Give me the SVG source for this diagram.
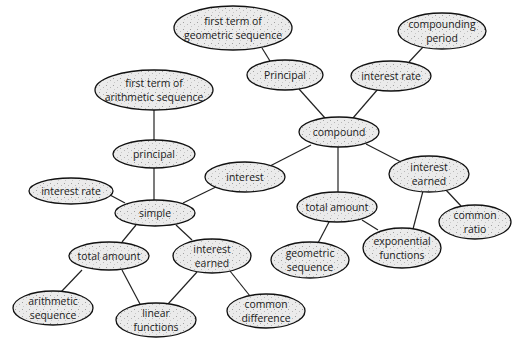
<svg xmlns="http://www.w3.org/2000/svg" width="512" height="338" viewBox="0 0 512 338">
<defs>
<pattern id="stip" width="7" height="7" patternUnits="userSpaceOnUse">
<rect width="7" height="7" fill="#ebebeb"/>
<rect x="1" y="1" width="1" height="1" fill="#a0a0a0"/>
<rect x="5" y="3" width="1" height="1" fill="#b8b8b8"/>
<rect x="2" y="5" width="1" height="1" fill="#c8c8c8"/>
</pattern>
<style>
.n ellipse{fill:url(#stip);stroke:#111;stroke-width:1.3}
.n text{font-family:"Open Sans","DejaVu Sans",sans-serif;font-size:10.4px;fill:#1a1a1a;text-anchor:middle}
#edges line{stroke:#222;stroke-width:1.2}
</style>
</defs>
<rect width="512" height="338" fill="#fff"/>
<g id="edges">
<line x1="262" y1="48" x2="270" y2="61"/>
<line x1="423" y1="47" x2="409" y2="62"/>
<line x1="299" y1="89" x2="325" y2="118"/>
<line x1="378" y1="89" x2="353" y2="118"/>
<line x1="311" y1="145" x2="270" y2="166"/>
<line x1="338" y1="147" x2="338" y2="192"/>
<line x1="366" y1="144" x2="401" y2="162"/>
<line x1="154" y1="110" x2="154" y2="140"/>
<line x1="154" y1="168" x2="154" y2="201"/>
<line x1="110" y1="195" x2="125" y2="203"/>
<line x1="220" y1="185" x2="183" y2="203"/>
<line x1="136" y1="225" x2="122" y2="242"/>
<line x1="176" y1="225" x2="192" y2="240"/>
<line x1="82" y1="270" x2="61" y2="292"/>
<line x1="122" y1="270" x2="140" y2="304"/>
<line x1="197" y1="272" x2="168" y2="304"/>
<line x1="230" y1="271" x2="250" y2="296"/>
<line x1="329" y1="222" x2="318" y2="243"/>
<line x1="362" y1="220" x2="378" y2="230"/>
<line x1="423" y1="191" x2="413" y2="229"/>
<line x1="446" y1="190" x2="461" y2="206"/>
</g>
<g id="n-first-geo" class="n"><ellipse cx="233" cy="28" rx="59" ry="22"/><text x="233" y="24.5">first term of</text><text x="233" y="39">geometric sequence</text></g>
<g id="n-comp-period" class="n"><ellipse cx="442" cy="31" rx="44" ry="18"/><text x="442" y="27.5">compounding</text><text x="442" y="42">period</text></g>
<g id="n-Principal" class="n"><ellipse cx="285" cy="75" rx="38" ry="15"/><text x="285" y="79">Principal</text></g>
<g id="n-rate-top" class="n"><ellipse cx="391" cy="76" rx="40" ry="15"/><text x="391" y="80">interest rate</text></g>
<g id="n-compound" class="n"><ellipse cx="339" cy="132" rx="40" ry="15"/><text x="339" y="136">compound</text></g>
<g id="n-first-arith" class="n"><ellipse cx="154" cy="90" rx="59" ry="20"/><text x="154" y="86.5">first term of</text><text x="154" y="101">arithmetic sequence</text></g>
<g id="n-principal" class="n"><ellipse cx="154" cy="154" rx="41" ry="14"/><text x="154" y="158">principal</text></g>
<g id="n-interest" class="n"><ellipse cx="245" cy="177" rx="40" ry="15"/><text x="245" y="181">interest</text></g>
<g id="n-rate-left" class="n"><ellipse cx="71" cy="191" rx="42" ry="13"/><text x="71" y="195">interest rate</text></g>
<g id="n-simple" class="n"><ellipse cx="155" cy="213" rx="40" ry="13"/><text x="155" y="217">simple</text></g>
<g id="n-total-left" class="n"><ellipse cx="109" cy="256" rx="40" ry="14"/><text x="109" y="260">total amount</text></g>
<g id="n-earned-left" class="n"><ellipse cx="212" cy="256" rx="39" ry="17"/><text x="212" y="252.5">interest</text><text x="212" y="267">earned</text></g>
<g id="n-arith-seq" class="n"><ellipse cx="53" cy="308" rx="40" ry="17"/><text x="53" y="304.5">arithmetic</text><text x="53" y="319">sequence</text></g>
<g id="n-linear" class="n"><ellipse cx="156" cy="320" rx="40" ry="17"/><text x="156" y="316.5">linear</text><text x="156" y="331">functions</text></g>
<g id="n-common-diff" class="n"><ellipse cx="266" cy="311" rx="39" ry="17"/><text x="266" y="307.5">common</text><text x="266" y="322">difference</text></g>
<g id="n-earned-right" class="n"><ellipse cx="429" cy="174" rx="40" ry="18"/><text x="429" y="170.5">interest</text><text x="429" y="185">earned</text></g>
<g id="n-total-mid" class="n"><ellipse cx="337" cy="207" rx="40" ry="15"/><text x="337" y="211">total amount</text></g>
<g id="n-common-ratio" class="n"><ellipse cx="475" cy="222" rx="36" ry="17"/><text x="475" y="218.5">common</text><text x="475" y="233">ratio</text></g>
<g id="n-geo-seq" class="n"><ellipse cx="310" cy="260" rx="39" ry="18"/><text x="310" y="256.5">geometric</text><text x="310" y="271">sequence</text></g>
<g id="n-exp" class="n"><ellipse cx="402" cy="248" rx="39" ry="20"/><text x="402" y="244.5">exponential</text><text x="402" y="259">functions</text></g>
</svg>
